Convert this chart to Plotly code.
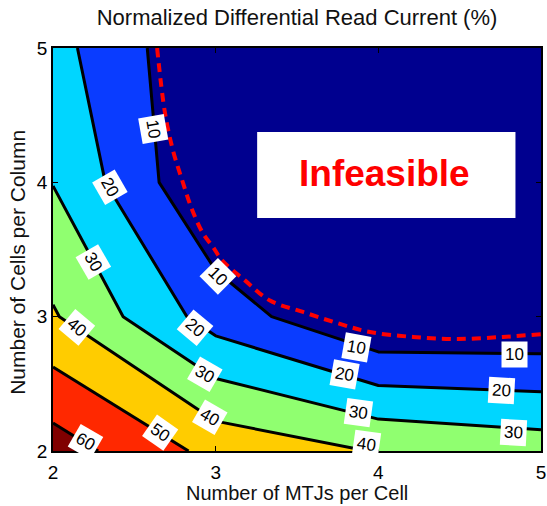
import plotly.graph_objects as go

# ---------------- data ----------------
mtjs_per_cell = [2, 3, 4, 5]          # x grid
cells_per_column = [2, 3, 4, 5]       # y grid
# normalized differential read current (%) at grid nodes, rows = cells_per_column
read_current = [
    [65.0, 47.0, 39.5, 35.6],   # 2 cells
    [41.0, 15.5, -0.5, 0.2],    # 3 cells
    [29.7, -0.5, -2.0, -2.0],   # 4 cells
    [23.5, 0.2, -3.0, -3.0],    # 5 cells
]
contour_levels = [10, 20, 30, 40, 50, 60]
tick_values = [2, 3, 4, 5]

# feasibility boundary (dashed red)
boundary_x = [2.64, 2.688, 2.737, 2.793, 2.854, 2.922, 2.983, 3.039, 3.18,
              3.334, 3.537, 3.745, 3.948, 4.213, 4.483, 4.766, 5.0]
boundary_y = [5.0, 4.52, 4.24, 4.02, 3.80, 3.62, 3.52, 3.42, 3.27,
              3.12, 3.035, 2.953, 2.886, 2.849, 2.834, 2.849, 2.87]

# contour label texts, their positions and angles
label_text = ["10", "20", "30", "10", "40", "20", "30", "40", "50", "60",
              "10", "20", "30", "40", "10", "20", "30"]
label_x = [2.615, 2.35, 2.246, 3.014, 2.147, 2.873, 2.934, 2.965, 2.658, 2.197,
           3.868, 3.795, 3.875, 3.93, 4.84, 4.76, 4.83]
label_y = [4.40, 3.96, 3.41, 3.296, 2.916, 2.923, 2.566, 2.246, 2.141, 2.07,
           2.774, 2.566, 2.29, 2.05, 2.715, 2.454, 2.14]
label_angle = [80, 60, 60, 45, 40, 40, 30, 30, 35, 30, 10, 10, 8, 8, 0, 3, 3]

band_colors = ["#00008F", "#0A3CFF", "#00D6FF", "#90FF70",
               "#FFCC00", "#FF2800", "#800000"]

FONT = "Liberation Sans, Arial, Helvetica, sans-serif"

n = len(band_colors)
colorscale = [[i / (n - 1), c] for i, c in enumerate(band_colors)]

fig = go.Figure()
fig.add_trace(go.Contour(
    x=mtjs_per_cell, y=cells_per_column, z=read_current,
    autocontour=False,
    contours=dict(start=contour_levels[0], end=contour_levels[-1],
                  size=contour_levels[1] - contour_levels[0],
                  coloring="fill", showlabels=False),
    colorscale=colorscale,
    line=dict(color="black", width=3, smoothing=0),
    showscale=False, hoverinfo="skip",
))

fig.add_trace(go.Scatter(
    x=boundary_x, y=boundary_y, mode="lines",
    line=dict(color="#FF0000", width=4, dash="9px,6px", shape="spline"),
    showlegend=False, hoverinfo="skip",
))

annotations = []
for t, x, y, a in zip(label_text, label_x, label_y, label_angle):
    annotations.append(dict(
        x=x, y=y, xref="x", yref="y", text=t, showarrow=False,
        textangle=a, bgcolor="white", borderpad=3,
        font=dict(family=FONT, size=17, color="black"),
    ))

# Infeasible box
fig.add_shape(type="rect", xref="x", yref="y", x0=3.255, x1=4.843, y0=3.735, y1=4.375,
              fillcolor="white", line=dict(width=0), layer="above")
annotations.append(dict(
    x=4.04, y=4.065, xref="x", yref="y", text="Infeasible", showarrow=False,
    font=dict(family=FONT, size=37, color="#FF0000", weight="bold"),
))

# axis titles (placed as paper annotations)
annotations.append(dict(
    x=0.5, y=-0.104, xref="paper", yref="paper", text="Number of MTJs per Cell",
    showarrow=False, xanchor="center", yanchor="middle",
    font=dict(family=FONT, size=20, color="#111"),
))
annotations.append(dict(
    x=-0.072, y=0.469, xref="paper", yref="paper", text="Number of Cells per Column",
    showarrow=False, xanchor="center", yanchor="middle", textangle=-90,
    font=dict(family=FONT, size=21, color="#111"),
))

axis_common = dict(
    range=[2, 5], tickvals=tick_values, ticks="inside", ticklen=5,
    tickcolor="black", showgrid=False, zeroline=False, automargin=False,
    showline=True, linecolor="black", linewidth=1.5, mirror="ticks",
    tickfont=dict(family=FONT, size=19, color="black"),
)

fig.update_layout(
    width=547, height=506,
    margin=dict(l=53, r=6, t=48, b=55),
    paper_bgcolor="white", plot_bgcolor="white",
    title=dict(text="Normalized Differential Read Current (%)",
               x=0.543, xanchor="center", y=0.965, yanchor="middle", yref="container",
               font=dict(family=FONT, size=22, color="#111")),
    xaxis=dict(**axis_common, ticklabelstandoff=3),
    yaxis=dict(**axis_common),
    annotations=annotations,
    showlegend=False,
)

fig.write_html("out.html", config={"displayModeBar": False},
               post_script="document.body.style.margin='0';")
